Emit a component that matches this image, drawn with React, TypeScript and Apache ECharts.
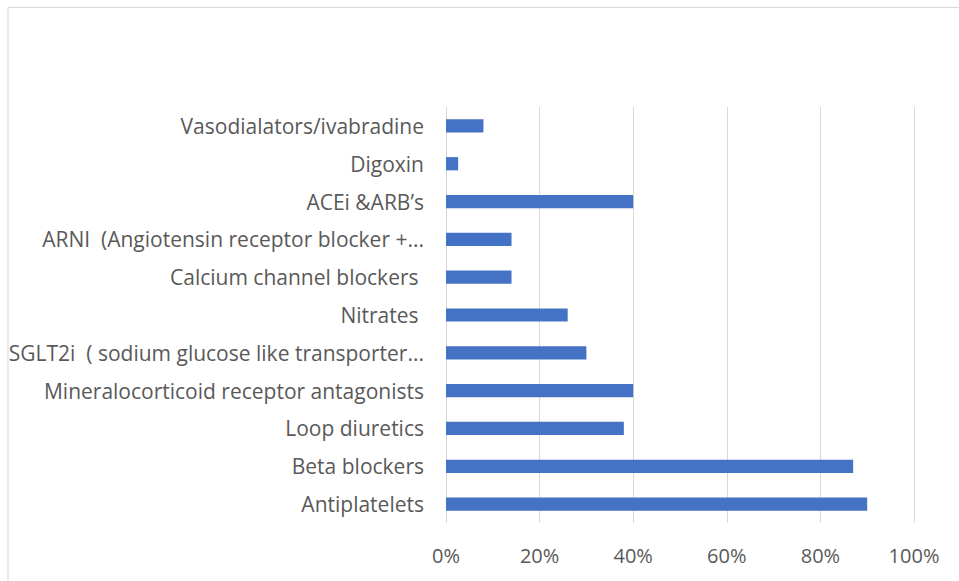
import React, { useEffect, useRef } from "react";
import * as echarts from "echarts";

const categories = [
  "Antiplatelets",
  "Beta blockers",
  "Loop diuretics",
  "Mineralocorticoid receptor antagonists",
  "SGLT2i  ( sodium glucose like transporter...",
  "Nitrates ",
  "Calcium channel blockers ",
  "ARNI  (Angiotensin receptor blocker +...",
  "ACEi &ARB’s",
  "Digoxin",
  "Vasodialators/ivabradine",
];
const values = [0.9, 0.87, 0.38, 0.4, 0.3, 0.26, 0.14, 0.14, 0.4, 0.026, 0.08];
const xTicks = { min: 0, max: 1, interval: 0.2 };

export default function App() {
  const ref = useRef<HTMLDivElement>(null);
  useEffect(() => {
    if (!ref.current) return;
    const chart = echarts.init(ref.current, undefined, { renderer: "svg" });
    chart.setOption({
      animation: false,
      backgroundColor: "#ffffff",
      textStyle: { fontFamily: "Open Sans" },
      graphic: [
        {
          type: "rect",
          shape: { x: 8, y: 7.5, width: 1000, height: 1000 },
          style: { fill: "none", stroke: "#d9d9d9", lineWidth: 1 },
          silent: true,
        },
      ],
      grid: { left: 446, right: 45, top: 107, bottom: 58, containLabel: false },
      xAxis: {
        type: "value",
        min: xTicks.min,
        max: xTicks.max,
        interval: xTicks.interval,
        axisLine: { show: false },
        axisTick: { show: false },
        splitLine: { lineStyle: { color: "#d9d9d9", width: 1 } },
        axisLabel: {
          color: "#595959",
          fontSize: 20,
          margin: 22,
          formatter: (v: number) => Math.round(v * 100) + "%",
        },
      },
      yAxis: {
        type: "category",
        data: categories,
        axisLine: { show: false },
        axisTick: { show: false },
        axisLabel: { color: "#595959", fontSize: 21, margin: 22 },
      },
      series: [
        {
          type: "bar",
          data: values,
          barWidth: "35%",
          itemStyle: { color: "#4472C4" },
        },
      ],
    });
    return () => chart.dispose();
  }, []);
  return (
    <div
      ref={ref}
      style={{ position: "absolute", left: 0, top: 0, width: 959, height: 581 }}
    />
  );
}
